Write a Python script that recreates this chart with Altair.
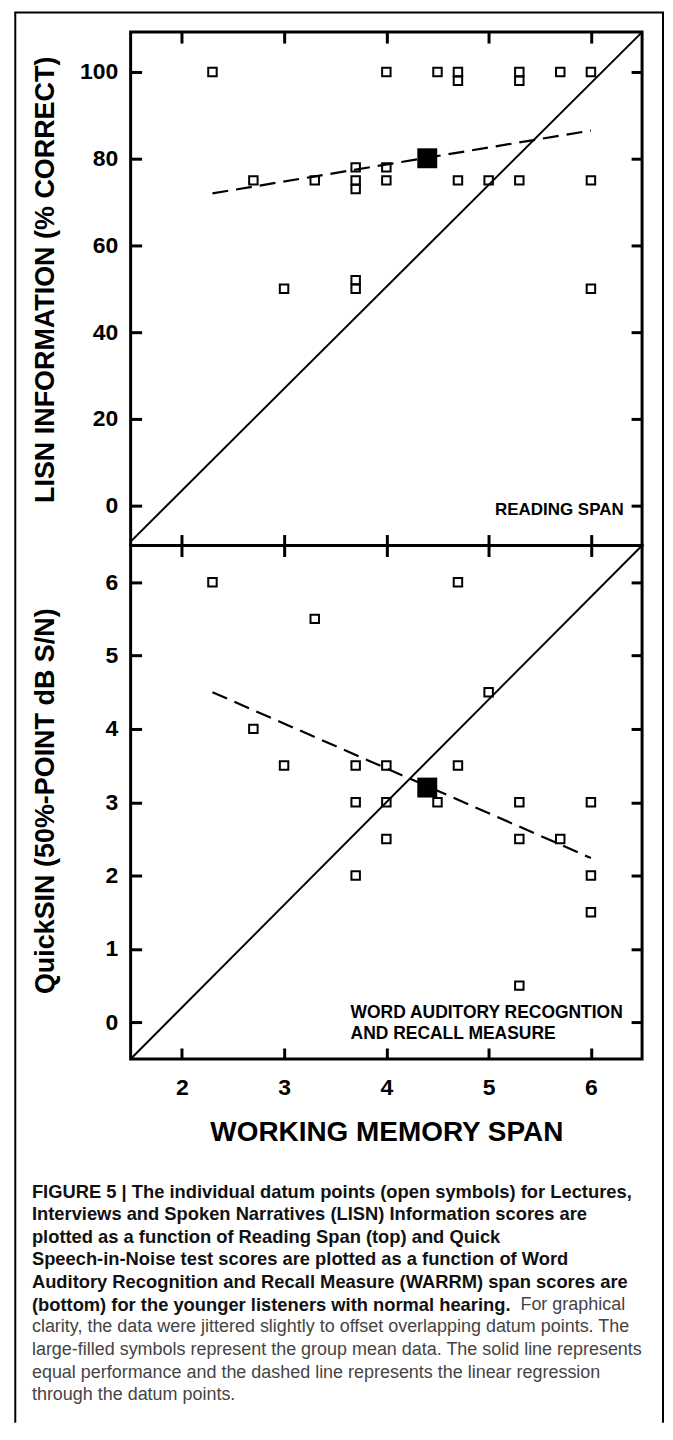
import altair as alt
import pandas as pd

FONT = "Liberation Sans"

# ---------------- data ----------------
# top panel: Reading span vs LISN information (% correct)
rs_span = [2.3, 4.0, 4.5, 4.7, 4.7, 5.3, 5.3, 5.7, 6.0,
           2.7, 3.3, 3.7, 3.7, 3.7, 4.0, 4.0, 4.7, 5.0, 5.3, 6.0,
           3.0, 3.7, 3.7, 6.0]
lisn_info = [100, 100, 100, 100, 98, 100, 98, 100, 100,
             75, 75, 78, 75, 73, 78, 75, 75, 75, 75, 75,
             50, 52, 50, 50]
lisn_mean_x = [4.4]
lisn_mean_y = [80.1]
lisn_fit_x = [2.3, 6.0]
lisn_fit_y = [72.0, 86.5]
lisn_diag_x = [1.5, 6.5]
lisn_diag_y = [-8.3, 109.2]
lisn_domain = [-9.2, 109.2]
lisn_ticks = [0, 20, 40, 60, 80, 100]

# bottom panel: WARRM span vs QuickSIN (dB S/N)
warrm_span = [2.3, 4.7, 3.3, 5.0, 2.7, 3.0, 3.7, 4.0, 4.7,
              3.7, 4.0, 4.5, 5.3, 6.0, 4.0, 5.3, 5.7,
              3.7, 6.0, 6.0, 5.3]
quicksin = [6.0, 6.0, 5.5, 4.5, 4.0, 3.5, 3.5, 3.5, 3.5,
            3.0, 3.0, 3.0, 3.0, 3.0, 2.5, 2.5, 2.5,
            2.0, 2.0, 1.5, 0.5]
qs_mean_x = [4.4]
qs_mean_y = [3.2]
qs_fit_x = [2.3, 6.0]
qs_fit_y = [4.5, 2.24]
qs_diag_x = [1.5, 6.5]
qs_diag_y = [-0.5, 6.5]
qs_domain = [-0.5, 6.5]
qs_ticks = [0, 1, 2, 3, 4, 5, 6]

x_domain = [1.5, 6.5]
x_ticks = [2, 3, 4, 5, 6]

top_note_text = ["READING SPAN"]
top_note_x = [6.32]
top_note_y = [-0.9]
bot_note_text = ["WORD AUDITORY RECOGNTION", "AND RECALL MEASURE"]
bot_note_x = [3.65, 3.65]
bot_note_y = [0.13, -0.16]

caption_bold = [
    "FIGURE 5 | The individual datum points (open symbols) for Lectures,",
    "Interviews and Spoken Narratives (LISN) Information scores are",
    "plotted as a function of Reading Span (top) and Quick",
    "Speech-in-Noise test scores are plotted as a function of Word",
    "Auditory Recognition and Recall Measure (WARRM) span scores are",
    "(bottom) for the younger listeners with normal hearing.",
]
caption_regular_tail = ["For graphical"]
caption_regular = [
    "clarity, the data were jittered slightly to offset overlapping datum points. The",
    "large-filled symbols represent the group mean data. The solid line represents",
    "equal performance and the dashed line represents the linear regression",
    "through the datum points.",
]

W, H = 513, 515


def ax(orient, labels, values, **kw):
    return alt.Axis(orient=orient, labels=labels, values=values, domain=False, grid=False,
                    ticks=True, tickSize=11, tickWidth=3, tickColor="black", offset=-11,
                    minExtent=0, labelFont=FONT, labelFontSize=23, labelFontWeight="bold",
                    labelColor="black", **kw)


def panel(px, py, mx, my, fx, fy, dx, dy, ydom, yticks, ytitle, title_y,
          nt, nx, ny, note_align, note_size, bottom_axis):
    xs = alt.Scale(domain=x_domain, nice=False, zero=False)
    ys = alt.Scale(domain=ydom, nice=False, zero=False)
    pts = pd.DataFrame({"x": px, "y": py})
    mean = pd.DataFrame({"x": mx, "y": my})
    fit = pd.DataFrame({"x": fx, "y": fy})
    diag = pd.DataFrame({"x": dx, "y": dy})
    notes = pd.DataFrame({"x": nx, "y": ny, "t": nt})

    y_left = ax("left", True, yticks, labelPadding=13, titleFont=FONT, titleFontSize=27,
                titleFontWeight="bold", titleColor="black", titleAngle=270,
                titleAlign="center", titleBaseline="bottom", titleX=-82, titleY=title_y)
    points = alt.Chart(pts).mark_point(shape="square", filled=False, size=72, strokeWidth=2,
                                       color="black", opacity=1).encode(
        x=alt.X("x:Q", scale=xs, axis=bottom_axis[0], title=bottom_axis[1]),
        y=alt.Y("y:Q", scale=ys, axis=y_left, title=ytitle),
    )
    meanpt = alt.Chart(mean).mark_point(shape="square", filled=True, size=400,
                                        color="black", opacity=1).encode(
        x=alt.X("x:Q", scale=xs, axis=None), y=alt.Y("y:Q", scale=ys, axis=None))
    fitline = alt.Chart(fit).mark_line(color="black", strokeWidth=2.2,
                                       strokeDash=[16, 8]).encode(
        x=alt.X("x:Q", scale=xs, axis=None), y=alt.Y("y:Q", scale=ys, axis=None))
    diagline = alt.Chart(diag).mark_line(color="black", strokeWidth=2).encode(
        x=alt.X("x:Q", scale=xs, axis=ax("top", False, x_ticks), title=None),
        y=alt.Y("y:Q", scale=ys, axis=ax("right", False, yticks), title=None))
    text = alt.Chart(notes).mark_text(align=note_align, baseline="middle", font=FONT,
                                      fontSize=note_size, fontWeight="bold",
                                      color="black").encode(
        x=alt.X("x:Q", scale=xs, axis=None), y=alt.Y("y:Q", scale=ys, axis=None),
        text="t:N")
    return alt.layer(points, diagline, fitline, meanpt, text).resolve_axis(
        x="independent", y="independent").properties(
        width=W, height=H, view=alt.ViewBackground(stroke="black", strokeWidth=3))


top = panel(rs_span, lisn_info, lisn_mean_x, lisn_mean_y, lisn_fit_x, lisn_fit_y,
            lisn_diag_x, lisn_diag_y, lisn_domain, lisn_ticks,
            "LISN INFORMATION (% CORRECT)", 248,
            top_note_text, top_note_x, top_note_y, "right", 17,
            (ax("bottom", False, x_ticks), None))

bottom = panel(warrm_span, quicksin, qs_mean_x, qs_mean_y, qs_fit_x, qs_fit_y,
               qs_diag_x, qs_diag_y, qs_domain, qs_ticks,
               "QuickSIN (50%-POINT dB S/N)", 256,
               bot_note_text, bot_note_x, bot_note_y, "left", 17.5,
               (ax("bottom", True, x_ticks, labelPadding=18, labelAngle=0,
                   titleFont=FONT, titleFontSize=28, titleFontWeight="bold",
                   titleColor="black", titlePadding=19), "WORKING MEMORY SPAN"))

# ---------------- caption ----------------
cap_ys = alt.Scale(domain=[0, 9], range=[133, 337.3])
bold_df = pd.DataFrame({"line": list(range(len(caption_bold))), "t": caption_bold})
reg_df = pd.DataFrame({"line": list(range(6, 6 + len(caption_regular))), "t": caption_regular})
tail_df = pd.DataFrame({"line": [5], "t": caption_regular_tail})

cap_bold = alt.Chart(bold_df).mark_text(align="left", baseline="middle", font=FONT,
                                        fontSize=18.4, fontWeight="bold", color="#111111").encode(
    x=alt.value(-99), y=alt.Y("line:Q", scale=cap_ys, axis=None), text="t:N")
cap_reg = alt.Chart(reg_df).mark_text(align="left", baseline="middle", font=FONT,
                                      fontSize=18, color="#444444").encode(
    x=alt.value(-99), y=alt.Y("line:Q", scale=cap_ys, axis=None), text="t:N")
cap_tail = alt.Chart(tail_df).mark_text(align="left", baseline="middle", font=FONT,
                                        fontSize=18, color="#444444").encode(
    x=alt.value(391), y=alt.Y("line:Q", scale=cap_ys, axis=None), text="t:N")

one = pd.DataFrame({"k": [0]})
frame_left = alt.Chart(one).mark_rule(color="black", strokeWidth=2).encode(
    x=alt.value(-115.7), y=alt.value(-1049.6), y2=alt.value(365))
frame_right = alt.Chart(one).mark_rule(color="black", strokeWidth=2).encode(
    x=alt.value(534), y=alt.value(-1049.6), y2=alt.value(365))
frame_top = alt.Chart(one).mark_rule(color="black", strokeWidth=2).encode(
    x=alt.value(-116.7), x2=alt.value(535), y=alt.value(-1049.6))

caption = alt.layer(frame_left, frame_right, frame_top, cap_bold, cap_reg, cap_tail).properties(
    width=W, height=300, view=alt.ViewBackground(strokeWidth=0))

chart = alt.vconcat(top, bottom, caption, spacing=0, bounds="flush").properties(
    padding={"left": 5, "top": 1, "right": 0, "bottom": 0},
    background="white",
).configure(font=FONT).configure_view(strokeWidth=0)

chart.save("out.html", embed_options={"renderer": "svg", "actions": False})
